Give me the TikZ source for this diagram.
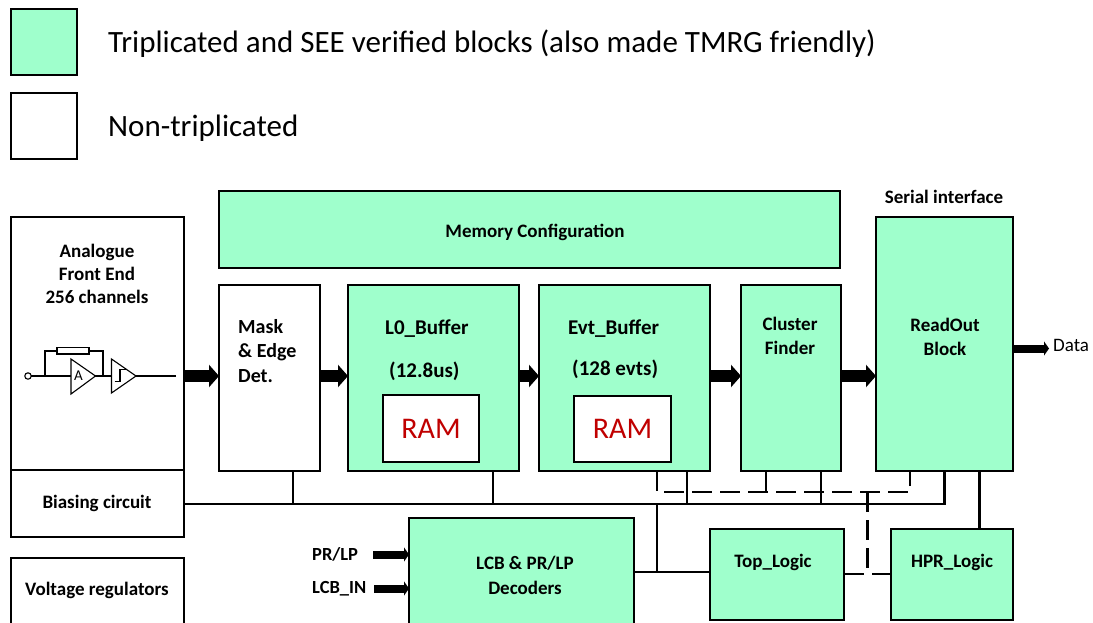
\documentclass[tikz,border=0pt]{standalone}
\usepackage{fontspec}
\setmainfont{Carlito}
\usepackage{tikz}
\usetikzlibrary{arrows.meta}
\definecolor{tmrgreen}{HTML}{9FFFCC}
\definecolor{ramred}{HTML}{C00000}
\tikzset{
  block/.style={
    rectangle,
    draw=black, line width=1.3pt,
    anchor=north west,
    outer sep=0pt,
    inner sep=0pt},
  greenblock/.style={block, fill=tmrgreen},
  whiteblock/.style={block, fill=white},
  blocktext/.style={font=\bfseries\fontsize{19}{22}\selectfont, align=center, inner sep=0pt},
  bigtext/.style={font=\bfseries\fontsize{20}{24}\selectfont, anchor=west, inner sep=0pt},
  buffertext/.style={font=\bfseries\fontsize{21}{24}\selectfont, anchor=west, inner sep=0pt},
  legendtext/.style={font=\fontsize{31}{36}\selectfont, anchor=west, inner sep=0pt},
  ramtext/.style={font=\fontsize{30}{34}\selectfont, text=ramred, inner sep=0pt},
  wire/.style={draw, line width=2.4pt},
  dashwire/.style={draw, line width=2.4pt, dash pattern=on 20pt off 8pt},
  thin wire/.style={draw, line width=1.1pt},
  bigarrow/.style={draw, line width=12pt, -{Triangle[length=10pt,width=22pt]}},
  smallarrow/.style={draw, line width=8pt, -{Triangle[length=5pt,width=14pt]}},
}
\begin{document}
\begin{tikzpicture}[x=1pt,y=-1pt]
  \useasboundingbox (0,0) rectangle (1093,623);
  \clip (0,0) rectangle (1093,623);
  % legend
  \node[greenblock, minimum width=66pt, minimum height=66pt] (legendgreen) at (11,9) {};
  \node[whiteblock, minimum width=66pt, minimum height=66pt] (legendwhite) at (11,93) {};
  \node[legendtext] (legendone) at (108,44) {Triplicated and SEE verified blocks (also made TMRG friendly)};
  \node[legendtext] (legendtwo) at (108,128) {Non-triplicated};
  % blocks
  \node[whiteblock, minimum width=173pt, minimum height=253pt] (AnalogueFE) at (11,217) {};
  \node[whiteblock, minimum width=173pt, minimum height=67pt] (Biasing) at (11,470) {};
  \node[whiteblock, minimum width=173pt, minimum height=90pt] (Regulators) at (11,558) {};
  \node[greenblock, minimum width=621pt, minimum height=77pt] (MemoryConf) at (219,191) {};
  \node[whiteblock, minimum width=101pt, minimum height=186pt] (MaskEdge) at (219,285) {};
  \node[greenblock, minimum width=171pt, minimum height=186pt] (LzeroBuffer) at (348,285) {};
  \node[greenblock, minimum width=171pt, minimum height=186pt] (EvtBuffer) at (539,285) {};
  \node[greenblock, minimum width=100pt, minimum height=186pt] (ClusterFinder) at (741,285) {};
  \node[greenblock, minimum width=137pt, minimum height=254pt] (ReadOut) at (876,217) {};
  \node[greenblock, minimum width=225pt, minimum height=120pt] (Decoders) at (409,518) {};
  \node[greenblock, minimum width=134pt, minimum height=91pt] (TopLogic) at (710,529) {};
  \node[greenblock, minimum width=122pt, minimum height=91pt] (HprLogic) at (891,529) {};
  \node[whiteblock, minimum width=96pt, minimum height=67pt] (RamOne) at (383,395) {};
  \node[whiteblock, minimum width=97pt, minimum height=66pt] (RamTwo) at (574,396) {};
  % texts
  \node[blocktext] (AnalogueText) at (97,273.5) {Analogue\\[1pt]Front End\\[1pt]256 channels};
  \node[blocktext] (BiasingText) at (97,503) {Biasing circuit};
  \node[blocktext] (RegulatorsText) at (97,590.5) {Voltage regulators};
  \node[blocktext] (MemoryText) at (535,232) {Memory Configuration};
  \node[blocktext] (SerialText) at (944,196.5) {Serial interface};
  \node[bigtext] (MaskText) at (238,327) {Mask};
  \node[bigtext] (EdgeText) at (238,352) {\& Edge};
  \node[bigtext] (DetText) at (238,376) {Det.};
  \node[buffertext] (LzeroText) at (385,329) {L0\_Buffer};
  \node[buffertext] (LzeroSize) at (389,371) {(12.8us)};
  \node[buffertext] (EvtText) at (568,329) {Evt\_Buffer};
  \node[buffertext] (EvtSize) at (572,369) {(128 evts)};
  \node[blocktext, font=\bfseries\fontsize{19}{24}\selectfont] (ClusterText) at (790,336) {Cluster\\Finder};
  \node[blocktext, font=\bfseries\fontsize{19}{24}\selectfont] (ReadOutText) at (945,337) {ReadOut\\Block};
  \node[blocktext, font=\bfseries\fontsize{19}{25}\selectfont] (DecodersText) at (525,575.5) {LCB \& PR/LP\\Decoders};
  \node[blocktext] (TopText) at (773,562.5) {Top\_Logic};
  \node[blocktext] (HprText) at (952,562.5) {HPR\_Logic};
  \node[ramtext] (RamOneText) at (RamOne.center) {RAM};
  \node[ramtext] (RamTwoText) at (RamTwo.center) {RAM};
  \node[font=\fontsize{19}{22}\selectfont, anchor=west, inner sep=0pt] (DataText) at (1053,345) {Data};
  \node[blocktext, anchor=west, font=\bfseries\fontsize{18.5}{22}\selectfont] (PrLpText) at (312,554) {PR/LP};
  \node[blocktext, anchor=west, font=\bfseries\fontsize{18.5}{22}\selectfont] (LcbInText) at (312,589) {LCB\_IN};
  % front end sketch
  \coordinate (AmpA) at (71,359);
  \coordinate (AmpB) at (71,394);
  \coordinate (AmpTip) at (95.5,376);
  \coordinate (CmpA) at (111.5,359);
  \coordinate (CmpB) at (111.5,393);
  \coordinate (CmpTip) at (136,376);
  \coordinate (SketchIn) at (31,376);
  \coordinate (SketchOut) at (176,376);
  \coordinate (FbLeft) at (45,376);
  \coordinate (FbRight) at (103,376);
  \draw[thin wire] (28,376) circle (3.2pt);
  \draw[thin wire] (SketchIn) -- (AmpTip |- SketchIn) (SketchOut) -- (CmpTip);
  \draw[thin wire] (AmpTip) -- (CmpA |- AmpTip);
  \draw[thin wire, fill=white] (AmpA) -- (AmpTip) -- (AmpB) -- cycle;
  \draw[thin wire, fill=white] (CmpA) -- (CmpTip) -- (CmpB) -- cycle;
  \draw[thin wire] (FbLeft) -- (45,351) -- (103,351) -- (FbRight);
  \draw[thin wire, fill=white] (57,347.5) rectangle (89,354);
  \draw[thin wire] (114.5,381.5) -- (120,381.5) -- (120,369.5) -- (126,369.5);
  \node[font=\fontsize{15}{16}\selectfont, inner sep=0pt] (AmpText) at (78.5,376) {A};
  % power bus
  \coordinate (BusMask) at (293,504);
  \coordinate (BusLzero) at (493,504);
  \coordinate (BusDown) at (657,504);
  \coordinate (BusEvt) at (687,504);
  \coordinate (BusCluster) at (821,504);
  \coordinate (BusRead) at (944.5,504);
  \draw[wire] (Biasing.east |- BusMask) -- (BusRead) -- (BusRead |- ReadOut.south);
  \draw[wire] (BusMask) -- (BusMask |- MaskEdge.south);
  \draw[wire] (BusLzero) -- (BusLzero |- LzeroBuffer.south);
  \draw[wire] (BusEvt) -- (BusEvt |- EvtBuffer.south);
  \draw[wire] (BusCluster) -- (BusCluster |- ClusterFinder.south);
  \coordinate (TopIn) at (657,572);
  \draw[wire] (BusDown) -- (TopIn);
  \draw[wire] (Decoders.east |- TopIn) -- (TopLogic.west |- TopIn);
  \coordinate (HprUp) at (979.5,529);
  \draw[wire] (HprUp) -- (HprUp |- ReadOut.south);
  % dashed bus
  \coordinate (DashEvt) at (657,492);
  \coordinate (DashCluster) at (766,492);
  \coordinate (DashRead) at (910,492);
  \coordinate (DashDown) at (867.5,492);
  \coordinate (DashLow) at (867.5,574);
  \draw[dashwire] (DashEvt |- EvtBuffer.south) -- (DashEvt) -- (DashRead) -- (DashRead |- ReadOut.south);
  \draw[dashwire] (DashCluster) -- (DashCluster |- ClusterFinder.south);
  \draw[dashwire] (DashDown) -- (DashLow);
  \draw[dashwire] (TopLogic.east |- DashLow) -- (HprLogic.west |- DashLow);
  % data flow
  \coordinate (FlowY) at (0,376);
  \draw[bigarrow] (AnalogueFE.east |- FlowY) -- (MaskEdge.west |- FlowY);
  \draw[bigarrow] (MaskEdge.east |- FlowY) -- (LzeroBuffer.west |- FlowY);
  \draw[bigarrow] (LzeroBuffer.east |- FlowY) -- (EvtBuffer.west |- FlowY);
  \draw[bigarrow] (EvtBuffer.east |- FlowY) -- (ClusterFinder.west |- FlowY);
  \draw[bigarrow] (ClusterFinder.east |- FlowY) -- (ReadOut.west |- FlowY);
  \coordinate (DataEnd) at (1049,348.5);
  \draw[smallarrow] (ReadOut.east |- DataEnd) -- (DataEnd);
  \coordinate (PrLpEnd) at (373,554.5);
  \coordinate (LcbEnd) at (374,588.5);
  \draw[smallarrow] (PrLpEnd) -- (Decoders.west |- PrLpEnd);
  \draw[smallarrow] (LcbEnd) -- (Decoders.west |- LcbEnd);
\end{tikzpicture}
\end{document}
